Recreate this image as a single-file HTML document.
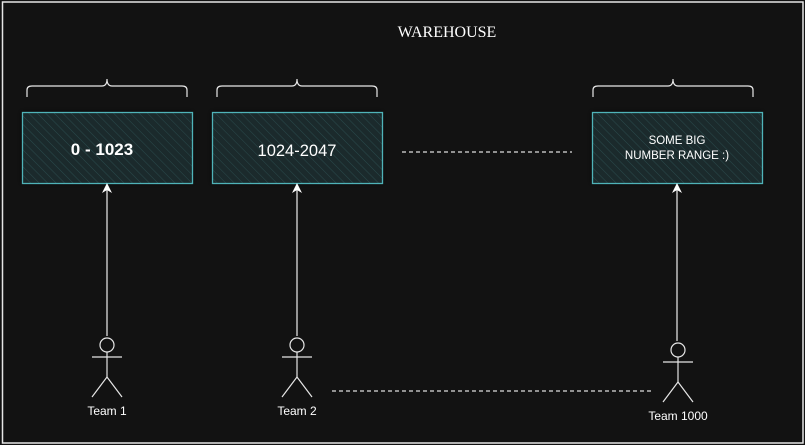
<!DOCTYPE html>
<html><head><style>
body{margin:0;background:#121212;}
svg{display:block}
</style></head><body>
<svg width="805" height="445" viewBox="0 0 805 445" xmlns="http://www.w3.org/2000/svg">
<defs>
<pattern id="h" width="6" height="6" patternUnits="userSpaceOnUse" patternTransform="rotate(-45)">
<rect width="6" height="6" fill="#1b2a2c"/><line x1="0" y1="0" x2="0" y2="6" stroke="#2a4a4c" stroke-width="1"/>
</pattern>
<filter id="g" x="-10%" y="-20%" width="120%" height="140%"><feGaussianBlur stdDeviation="2"/></filter>
</defs>
<rect x="0" y="0" width="805" height="445" fill="#121212"/>
<rect x="2.5" y="2" width="800.5" height="441" fill="none" stroke="#e6e6e6" stroke-width="1.5"/>
<text x="447" y="37" font-family="Liberation Serif, serif" font-size="16" fill="#fff" text-anchor="middle">WAREHOUSE</text>
<g fill="none" stroke="#e8e8e8" stroke-width="1.2">
<path d="M27 97 V90 Q27 86 32 86 H102 Q107 86 107 79 Q107 86 112 86 H182 Q187 86 187 90 V97"/>
<path d="M217 97 V90 Q217 86 222 86 H292 Q297 86 297 79 Q297 86 302 86 H372 Q377 86 377 90 V97"/>
<path d="M593 97 V90 Q593 86 598 86 H668 Q673 86 673 79 Q673 86 678 86 H748 Q753 86 753 90 V97"/>
</g>
<g>
<rect x="22" y="112" width="170" height="71" fill="#000" opacity="0.6" filter="url(#g)"/>
<rect x="212" y="112" width="170" height="71" fill="#000" opacity="0.6" filter="url(#g)"/>
<rect x="592" y="112" width="170" height="71" fill="#000" opacity="0.6" filter="url(#g)"/>
<rect x="22.5" y="112.5" width="170" height="71" fill="url(#h)" stroke="#4fb3b8" stroke-width="1.3"/>
<rect x="212.5" y="112.5" width="170" height="71" fill="url(#h)" stroke="#4fb3b8" stroke-width="1.3"/>
<rect x="592.5" y="112.5" width="170" height="71" fill="url(#h)" stroke="#4fb3b8" stroke-width="1.3"/>
</g>
<g font-family="Liberation Sans, sans-serif" fill="#fff" text-anchor="middle">
<text x="102" y="155" font-size="17" font-weight="600">0 - 1023</text>
<text x="297" y="156" font-size="16.5">1024-2047</text>
<text x="677" y="144" font-size="11.5">SOME BIG</text>
<text x="677" y="159" font-size="11.5">NUMBER RANGE :)</text>
</g>
<g stroke="#ddd" stroke-width="1.2" stroke-dasharray="4,3">
<line x1="402" y1="152" x2="572" y2="152"/>
<line x1="332" y1="391" x2="652" y2="391"/>
</g>
<g stroke="#eee" stroke-width="1.2" fill="none">
<line x1="107" y1="336" x2="107" y2="190"/>
<line x1="297" y1="336" x2="297" y2="190"/>
<line x1="677" y1="341" x2="677" y2="190"/>
</g>
<g fill="#fff">
<path d="M107 183 L102 193 L107 190 L112 193Z"/>
<path d="M297 183 L292 193 L297 190 L302 193Z"/>
<path d="M677 183 L672 193 L677 190 L682 193Z"/>
</g>
<g stroke="#e6e6e6" stroke-width="1.2" fill="none">
<circle cx="107" cy="345" r="7"/><line x1="92" y1="357" x2="122" y2="357"/><line x1="107" y1="352" x2="107" y2="377"/><path d="M92 397 L107 377 L122 397"/>
<circle cx="297" cy="345" r="7"/><line x1="282" y1="357" x2="312" y2="357"/><line x1="297" y1="352" x2="297" y2="377"/><path d="M282 397 L297 377 L312 397"/>
<circle cx="678" cy="350" r="7"/><line x1="663" y1="362" x2="693" y2="362"/><line x1="678" y1="357" x2="678" y2="382"/><path d="M663 402 L678 382 L693 402"/>
</g>
<g font-family="Liberation Sans, sans-serif" font-size="12" fill="#fff" text-anchor="middle">
<text x="107" y="415">Team 1</text>
<text x="297" y="415">Team 2</text>
<text x="678" y="420">Team 1000</text>
</g>
</svg>
</body></html>
